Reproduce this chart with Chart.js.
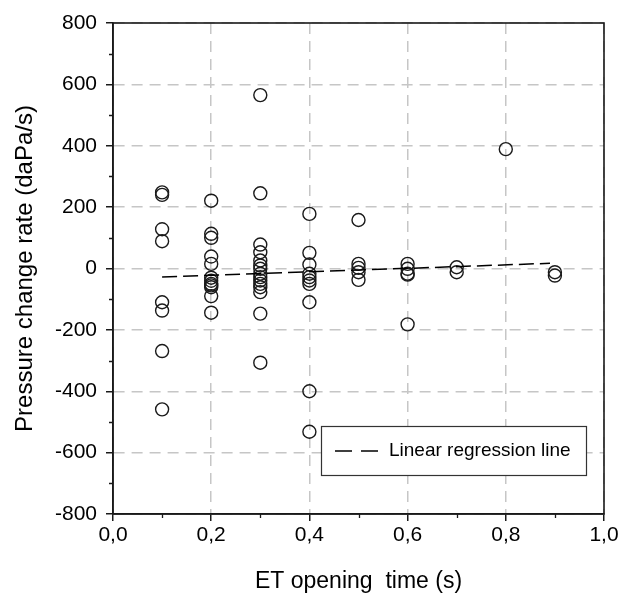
<!DOCTYPE html>
<html>
<head>
<meta charset="utf-8">
<script src="https://cdn.jsdelivr.net/npm/chart.js@4"></script>
<style>
  html, body { margin: 0; padding: 0; background: #fff; }
  #wrap { width: 624px; height: 602px; }
</style>
</head>
<body>
<div id="wrap"><canvas id="c" width="624" height="602"></canvas></div>
<script>
// ---- data ----
const times = [0.1, 0.2, 0.3, 0.4, 0.5, 0.6, 0.7, 0.8, 0.9];
const rates01 = [248, 240, 128, 89, -110, -137, -269, -459];
const rates02 = [221, 113, 100, 39, 15, -30, -40, -50, -55, -61, -90, -144];
const rates03 = [565, 245, 78, 53, 26, 10, -1, -17, -28, -39, -50, -61, -77, -147, -307];
const rates04 = [178, 51, 13, -17, -28, -39, -50, -110, -400, -532];
const rates05 = [158, 15, 2, -12, -37];
const rates06 = [15, -1, -17, -20, -182];
const rates07 = [4, -12];
const rates08 = [389];
const rates09 = [-12, -23];
const regressionX = [0.1, 0.89];
const regressionY = [-28, 17];
const xTicks = [0, 0.2, 0.4, 0.6, 0.8, 1.0];
const yTicks = [-800, -600, -400, -200, 0, 200, 400, 600, 800];
const xMinorTicks = [0.1, 0.3, 0.5, 0.7, 0.9];
const yMinorTicks = [-700, -500, -300, -100, 100, 300, 500, 700];
const legendLabel = 'Linear regression line';

const groups = [rates01, rates02, rates03, rates04, rates05, rates06, rates07, rates08, rates09];
const points = [];
groups.forEach((g, i) => g.forEach(v => points.push({x: times[i], y: v})));
const regression = regressionX.map((x, i) => ({x: x, y: regressionY[i]}));

Chart.defaults.font.family = "'Liberation Sans', Arial, sans-serif";
Chart.defaults.color = '#000';

const GRID = '#c6c6c6';
const FRAME = '#1a1a1a';

const extras = {
  id: 'extras',
  afterDraw(chart) {
    const ctx = chart.ctx;
    const a = chart.chartArea;
    const xs = chart.scales.x, ys = chart.scales.y;
    ctx.save();
    // minor ticks
    ctx.strokeStyle = FRAME;
    ctx.lineWidth = 1.3;
    ctx.setLineDash([]);
    ctx.beginPath();
    yMinorTicks.forEach(v => {
      const p = Math.round(ys.getPixelForValue(v)) + 0.5;
      ctx.moveTo(a.left - 4, p); ctx.lineTo(a.left, p);
    });
    xMinorTicks.forEach(v => {
      const p = Math.round(xs.getPixelForValue(v)) + 0.5;
      ctx.moveTo(p, a.bottom); ctx.lineTo(p, a.bottom + 4);
    });
    ctx.stroke();
    // frame
    ctx.lineWidth = 1.6;
    ctx.strokeRect(a.left, a.top, a.right - a.left, a.bottom - a.top);
    // legend box
    const bx = 321, by = 426, bw = 265, bh = 49;
    ctx.fillStyle = '#fff';
    ctx.fillRect(bx, by, bw, bh);
    ctx.lineWidth = 1.2;
    ctx.strokeStyle = '#333';
    ctx.strokeRect(bx + 0.5, by + 0.5, bw, bh);
    const ly = by + bh / 2 + 0.5;
    ctx.strokeStyle = '#000';
    ctx.lineWidth = 1.5;
    ctx.setLineDash([17, 9]);
    ctx.beginPath();
    ctx.moveTo(bx + 14, ly); ctx.lineTo(bx + 57, ly);
    ctx.stroke();
    ctx.setLineDash([]);
    ctx.fillStyle = '#000';
    ctx.font = "19px 'Liberation Sans', Arial, sans-serif";
    ctx.textBaseline = 'middle';
    ctx.textAlign = 'left';
    ctx.fillText(legendLabel, bx + 68, ly);
    ctx.restore();
  }
};

new Chart(document.getElementById('c'), {
  type: 'scatter',
  data: {
    datasets: [
      {
        type: 'scatter',
        data: points,
        pointRadius: 6.5,
        pointHoverRadius: 6.5,
        pointBorderWidth: 1.4,
        pointBorderColor: '#1a1a1a',
        pointBackgroundColor: 'rgba(0,0,0,0)',
        order: 2
      },
      {
        type: 'line',
        data: regression,
        showLine: true,
        borderColor: '#000',
        borderWidth: 1.5,
        borderDash: [15, 6],
        pointRadius: 0,
        fill: false,
        order: 1
      }
    ]
  },
  options: {
    responsive: false,
    animation: false,
    devicePixelRatio: 1,
    layout: { padding: { top: 23, right: 20, left: 0, bottom: 0 } },
    plugins: { legend: { display: false }, tooltip: { enabled: false } },
    scales: {
      x: {
        type: 'linear',
        min: 0, max: 1,
        afterBuildTicks: s => { s.ticks = xTicks.map(v => ({value: v})); },
        afterFit: s => { s.height = 88; },
        ticks: {
          callback: v => v.toFixed(1).replace('.', ','),
          font: { size: 21 },
          color: '#000',
          padding: 2,
          maxRotation: 0
        },
        grid: {
          color: GRID, lineWidth: 1.5,
          tickColor: FRAME, tickLength: 7, tickWidth: 1.5, tickBorderDash: []
        },
        border: { display: true, color: FRAME, width: 1.6, dash: [11, 7] },
        title: {
          display: true,
          text: 'ET opening  time (s)',
          font: { size: 23 },
          color: '#000',
          padding: { top: 0, bottom: 7 }
        }
      },
      y: {
        type: 'linear',
        min: -800, max: 800,
        afterBuildTicks: s => { s.ticks = yTicks.map(v => ({value: v})); },
        afterFit: s => { s.width = 113; },
        ticks: {
          callback: v => String(v),
          font: { size: 21 },
          color: '#000',
          padding: 9
        },
        grid: {
          color: GRID, lineWidth: 1.5,
          tickColor: FRAME, tickLength: 7, tickWidth: 1.5, tickBorderDash: []
        },
        border: { display: true, color: FRAME, width: 1.6, dash: [11, 7] },
        title: {
          display: true,
          text: 'Pressure change rate (daPa/s)',
          font: { size: 24 },
          color: '#000',
          padding: { top: 11, bottom: 0 }
        }
      }
    }
  },
  plugins: [extras]
});
</script>
</body>
</html>
